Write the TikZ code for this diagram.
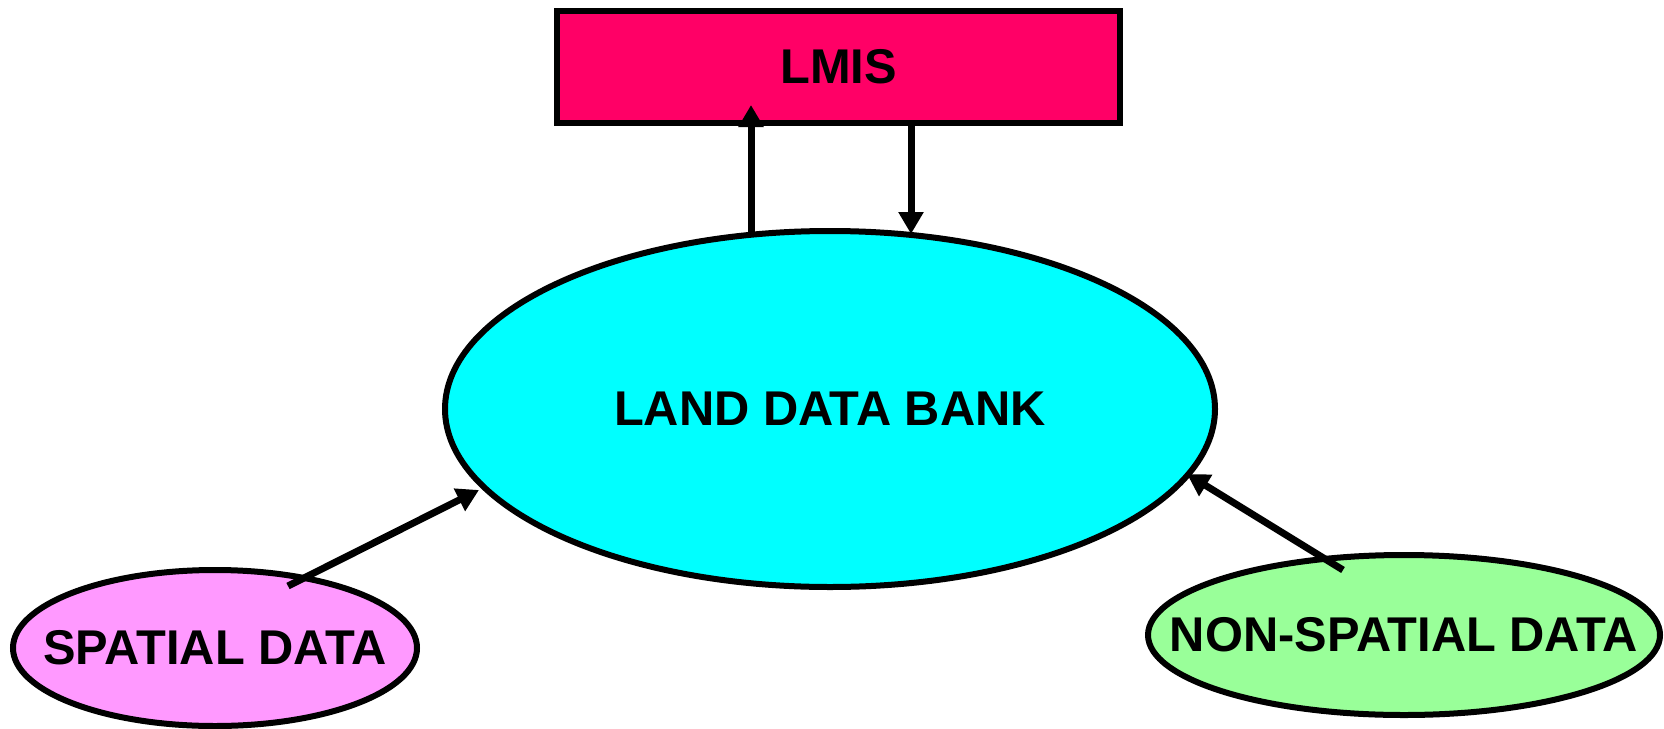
\documentclass[tikz,border=0pt]{standalone}
\usepackage{fontspec}
\setmainfont{Liberation Sans}
\usetikzlibrary{shapes.geometric,arrows.meta}
\definecolor{lmisc}{HTML}{FF0066}
\definecolor{bankc}{HTML}{00FFFF}
\definecolor{spc}{HTML}{FF99FF}
\definecolor{nspc}{HTML}{99FF99}
\tikzset{
  lbl/.style={font=\fontsize{24.4}{28}\selectfont\bfseries, text=black, inner sep=0pt, outer sep=0pt},
  oval/.style={lbl, ellipse, draw=black, line width=3pt, inner xsep=-150pt, inner ysep=-30pt},
  box/.style={lbl, rectangle, draw=black, line width=3pt},
  arr/.style={line width=3.5pt, -{Triangle[length=11pt,width=12pt]}}
}
\begin{document}
\begin{tikzpicture}[x=0.5pt,y=-0.5pt]
\useasboundingbox (0,0) rectangle (1664,728);
\node[box, fill=lmisc, minimum width=281.5pt, minimum height=56pt] (lmis) at (838.5,67) {LMIS};
\node[oval, fill=bankc, minimum width=385pt, minimum height=178pt] (bank) at (830,409) {LAND DATA BANK};
\node[oval, fill=spc, minimum width=202pt, minimum height=78pt] (sp) at (215,648) {SPATIAL DATA};
\node[oval, fill=nspc, minimum width=256pt, minimum height=80pt] (nsp) at (1404,635) {NON-SPATIAL DATA};
% connector endpoints
\coordinate (upS) at (751,234);
\coordinate (upE) at (751,105);
\coordinate (dnS) at (911,120);
\coordinate (dnE) at (911,234);
\coordinate (spS) at (288,586);
\coordinate (spE) at (479,490);
\coordinate (nsS) at (1343,570);
\coordinate (nsE) at (1187,474);
\draw[arr] (upS) -- (upE);
\draw[arr] (dnS) -- (dnE);
\draw[arr] (spS) -- (spE);
\draw[arr] (nsS) -- (nsE);
\end{tikzpicture}
\end{document}
